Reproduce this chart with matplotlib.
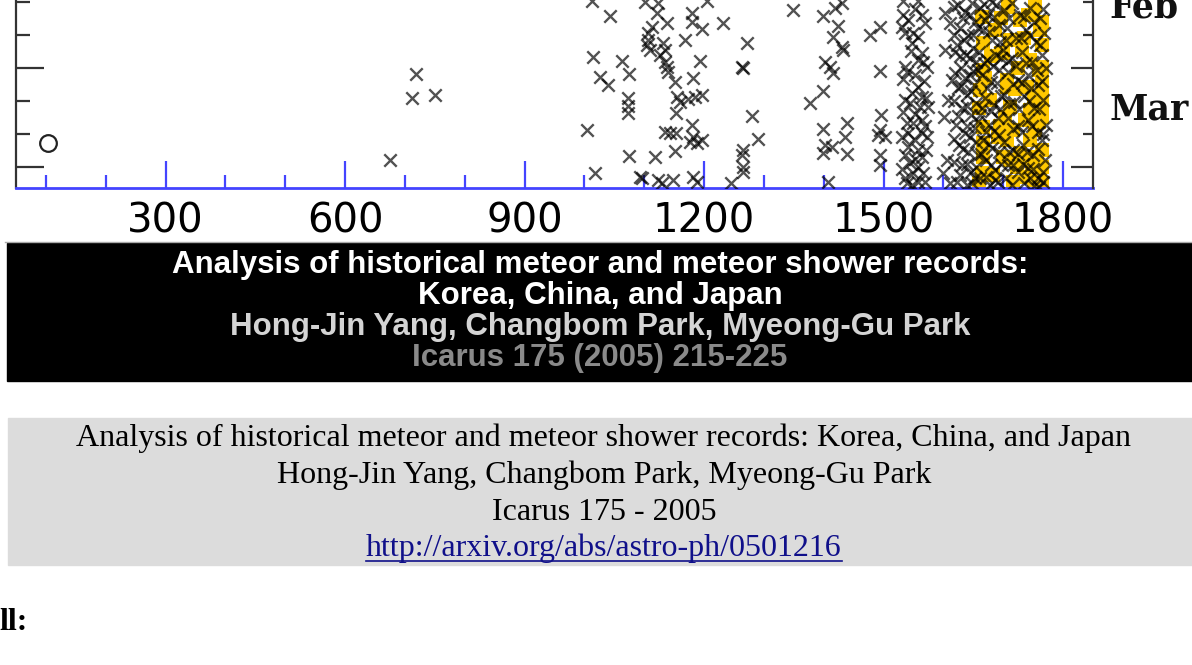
import matplotlib.pyplot as plt
from matplotlib.patches import Rectangle
from matplotlib.lines import Line2D
from matplotlib.ticker import FixedLocator, MultipleLocator

W, H = 1192, 665

# meteor records: (year, day of year)
sparse_records = [
    (718, 61.8), (712, 69.1), (750, 68.2), (675, 87.9),
    (1012, 39.6), (1043, 44.2), (1014, 56.7), (1026, 62.7), (1039, 65.2),
    (1063, 57.9), (1074, 61.8), (1073, 69.1), (1073, 71.5), (1073, 73.6),
    (1004, 78.8), (1074, 86.7), (1017, 91.8), (1093, 93.0), (1118, 87.0),
    (1101, 40.0), (1123, 40.3), (1121, 43.3), (1138, 46.4), (1113, 47.6),
    (1106, 49.4), (1106, 51.5), (1109, 54.5), (1104, 53.0), (1131, 52.4),
    (1134, 54.5), (1126, 56.1), (1134, 58.2), (1138, 59.7), (1139, 61.2),
    (1151, 64.2), (1180, 43.3), (1180, 46.1), (1196, 48.2), (1168, 51.5),
    (1193, 57.9), (1181, 63.0), (1155, 68.8), (1160, 70.3), (1173, 69.4),
    (1185, 68.8), (1196, 68.2), (1153, 73.6), (1180, 77.3), (1181, 80.9),
    (1176, 82.4), (1188, 82.7), (1196, 81.8), (1134, 79.4), (1143, 79.7),
    (1153, 79.7), (1151, 85.1), (1096, 93.3), (1123, 93.9), (1129, 94.8),
    (1148, 93.9), (1181, 93.0), (1188, 94.5), (1205, 39.6),
    (1231, 46.4), (1271, 52.4), (1265, 60.0), (1263, 59.7), (1348, 42.4),
    (1280, 74.5), (1290, 81.5), (1265, 84.8), (1263, 86.4), (1265, 90.0),
    (1265, 91.5), (1245, 94.8), (1398, 44.2), (1419, 41.8), (1430, 40.3),
    (1424, 47.3), (1415, 50.6), (1430, 53.6), (1432, 54.5), (1402, 58.2),
    (1410, 59.7), (1415, 61.5), (1398, 67.0), (1377, 70.6), (1398, 78.5),
    (1439, 76.7), (1435, 80.9), (1402, 83.3), (1414, 83.9), (1398, 85.8),
    (1439, 86.1), (1407, 94.5),
    (1494, 47.6), (1477, 50.0), (1494, 60.9), (1495, 74.2), (1494, 78.8),
    (1490, 80.3), (1502, 80.9), (1494, 86.4), (1494, 89.4),
]

records_1500s = [
    (1532, 43.9), (1541, 45.5), (1564, 43.9), (1536, 49.4), (1549, 49.4),
    (1557, 50.6), (1547, 52.4), (1564, 55.5), (1566, 58.2), (1536, 59.7),
    (1539, 61.2), (1572, 59.7), (1557, 65.8), (1564, 68.8), (1536, 69.7),
    (1544, 70.6), (1561, 71.8), (1574, 71.8), (1539, 76.7), (1549, 76.7),
    (1564, 75.8), (1541, 79.7), (1564, 79.7), (1572, 80.9), (1541, 83.9),
    (1557, 84.8), (1564, 87.0), (1544, 88.8), (1557, 90.0), (1549, 91.8),
    (1566, 91.8), (1536, 93.3), (1557, 94.5), (1539, 94.8), (1532, 39.6),
    (1557, 39.6),
    (1530, 47.5), (1553, 42.0), (1570, 46.5), (1545, 55.0), (1558, 57.5),
    (1533, 63.5), (1552, 62.0), (1568, 64.0), (1548, 67.5), (1571, 69.0),
    (1533, 73.5), (1553, 74.0), (1569, 77.5), (1531, 81.0), (1551, 81.5),
    (1535, 86.5), (1552, 87.5), (1571, 85.0), (1531, 90.5), (1570, 94.5),
    (1547, 95.5),
]

records_1600s = [
    (1602, 43.3), (1611, 46.4), (1602, 54.5), (1619, 55.2), (1601, 74.9),
    (1606, 87.9), (1599, 91.8), (1611, 94.9), (1607, 69.7), (1614, 63.6),
    (1624, 40.9), (1636, 43.0), (1648, 40.3), (1627, 47.9), (1641, 50.0),
    (1653, 46.1), (1622, 53.0), (1637, 56.1), (1649, 53.9), (1629, 60.0),
    (1644, 62.1), (1654, 58.2), (1624, 66.1), (1639, 68.2), (1651, 65.2),
    (1631, 72.1), (1646, 74.2), (1621, 77.3), (1636, 79.7), (1653, 78.2),
    (1626, 83.3), (1641, 85.5), (1654, 82.4), (1631, 89.4), (1646, 91.5),
    (1622, 94.5), (1639, 95.5), (1653, 93.3),
    (1661, 41.8), (1674, 43.9), (1688, 40.9), (1666, 48.5), (1681, 51.5),
    (1693, 47.0), (1659, 55.2), (1673, 57.6), (1688, 56.1), (1664, 62.1),
    (1679, 64.2), (1693, 60.6), (1669, 69.1), (1684, 71.2), (1661, 74.2),
    (1676, 77.3), (1691, 75.2), (1666, 81.8), (1681, 84.2), (1693, 80.3),
    (1671, 87.9), (1686, 90.9), (1661, 93.3), (1678, 95.5), (1691, 94.5),
    (1618, 41.5), (1632, 45.0), (1645, 44.0), (1658, 48.0), (1617, 50.0),
    (1634, 51.5), (1650, 50.0), (1628, 56.5), (1644, 57.0), (1658, 60.5),
    (1619, 61.5), (1636, 63.0), (1650, 61.0), (1630, 65.5), (1646, 67.0),
    (1618, 70.0), (1640, 71.5), (1655, 70.5), (1625, 74.5), (1658, 76.0),
    (1640, 77.5), (1617, 81.5), (1645, 81.0), (1632, 84.5), (1657, 86.5),
    (1618, 88.5), (1640, 89.0), (1655, 90.0), (1628, 92.5), (1648, 95.0),
    (1670, 45.5), (1685, 44.5), (1677, 49.0), (1695, 52.0), (1667, 58.5),
    (1683, 59.5), (1697, 57.0), (1673, 66.0), (1689, 64.5), (1697, 68.5),
    (1665, 72.0), (1679, 73.0), (1694, 72.5), (1671, 79.5), (1685, 79.0),
    (1676, 83.0), (1693, 85.5), (1663, 86.0), (1680, 89.5), (1696, 89.0),
    (1671, 93.0), (1686, 94.0), (1668, 40.5), (1682, 40.0),
]

records_1700s = [
    (1701, 42.4), (1714, 40.3), (1728, 43.9), (1744, 41.8), (1761, 44.9),
    (1706, 47.9), (1721, 50.9), (1738, 48.5), (1754, 52.1), (1768, 49.4),
    (1699, 54.5), (1714, 57.0), (1731, 55.2), (1748, 58.2), (1764, 56.1),
    (1708, 61.2), (1724, 63.6), (1741, 62.1), (1758, 65.2), (1771, 60.0),
    (1701, 68.2), (1718, 70.3), (1734, 68.5), (1751, 72.1), (1766, 69.7),
    (1708, 75.2), (1724, 77.6), (1741, 75.8), (1758, 79.4), (1771, 77.3),
    (1701, 82.4), (1716, 84.8), (1733, 83.3), (1749, 86.4), (1764, 81.8),
    (1708, 89.4), (1724, 91.5), (1741, 90.3), (1758, 93.3), (1769, 87.9),
    (1714, 95.5), (1734, 94.9), (1751, 95.8), (1766, 94.5),
    (1710, 45.0), (1735, 44.5), (1752, 46.0), (1767, 42.0), (1704, 51.5),
    (1729, 51.0), (1745, 50.0), (1762, 53.0), (1708, 58.0), (1722, 59.5),
    (1738, 58.5), (1756, 60.5), (1716, 65.0), (1732, 64.5), (1747, 66.0),
    (1765, 64.0), (1709, 71.0), (1726, 72.5), (1743, 70.0), (1760, 72.5),
    (1716, 78.5), (1732, 79.5), (1748, 77.5), (1766, 80.0), (1709, 85.5),
    (1724, 86.0), (1740, 85.5), (1758, 84.5), (1716, 89.5), (1733, 89.0),
    (1750, 90.5), (1766, 91.5), (1704, 93.5), (1745, 93.5), (1760, 96.0),
]

# highlighted (yellow) records
yellow_records = [
    (1664, 44.6), (1697, 44.9), (1666, 52.4), (1697, 55.5), (1666, 60.6),
    (1669, 63.0), (1661, 66.7), (1706, 65.8), (1703, 74.9), (1666, 77.9),
    (1666, 82.7), (1666, 87.0), (1664, 91.8), (1699, 87.0), (1691, 80.9),
    (1708, 41.5), (1728, 45.5), (1761, 48.5), (1699, 55.5), (1731, 54.5),
    (1764, 59.7), (1706, 63.6), (1739, 65.8), (1764, 66.7), (1711, 71.8),
    (1744, 72.7), (1764, 74.9), (1716, 78.8), (1753, 78.8), (1706, 81.8),
    (1728, 85.8), (1756, 87.0), (1764, 90.0), (1723, 90.0), (1739, 93.0),
    (1761, 93.9), (1716, 94.5), (1753, 40.9), (1764, 53.0), (1744, 81.8),
    (1764, 84.8), (1751, 95.5), (1736, 75.8), (1678, 69.7), (1686, 48.5),
    (1750, 44.0), (1764, 46.0), (1745, 57.5), (1764, 63.0), (1752, 69.0),
    (1764, 70.5), (1760, 76.5), (1748, 90.5), (1764, 95.0), (1725, 60.0),
    (1720, 66.5), (1735, 87.5), (1712, 88.0), (1683, 92.5), (1695, 77.5),
    (1660, 95.0), (1660, 72.0), (1680, 56.5), (1760, 60.5), (1742, 44.0),
    (1735, 51.0), (1712, 51.5),
]

circle_record = (103, 82.7)

year_ticks = [300, 600, 900, 1200, 1500, 1800]
month_labels = [("Feb", 44.6), ("Mar", 75.5)]

title_lines = [
    "Analysis of historical meteor and meteor shower records:",
    "Korea, China, and Japan",
    "Hong-Jin Yang, Changbom Park, Myeong-Gu Park",
    "Icarus 175 (2005) 215-225",
]
caption_lines = [
    "Analysis of historical meteor and meteor shower records: Korea, China, and Japan",
    "Hong-Jin Yang, Changbom Park, Myeong-Gu Park",
    "Icarus 175 - 2005",
]
link = "http://arxiv.org/abs/astro-ph/0501216"


def fpos(x, y):
    return x / W, 1 - y / H


fig = plt.figure(figsize=(W / 100, H / 100), dpi=100)
fig.patch.set_facecolor("white")

# chart (top is cropped off like in the page screenshot)
ax = fig.add_axes([16 / W, 1 - 188 / H, 1077 / W, 252 / H])
ax.set_xlim(50, 1850)
ax.set_ylim(96.4, 20)

yx, yd = zip(*yellow_records)
ax.scatter(yx, yd, marker="s", s=90, color="#ffc800", linewidths=0, zorder=2)
for grp in [sparse_records, records_1500s, records_1600s, records_1700s]:
    gx, gd = zip(*grp)
    ax.scatter(gx, gd, marker="x", s=80, color="black", alpha=0.68,
               linewidths=1.7, zorder=3)
ax.plot(*circle_record, marker="o", ms=12, mfc="none", mec="#222222", mew=1.6,
        clip_on=False, zorder=4)

ax.spines["top"].set_visible(False)
ax.spines["right"].set_visible(False)
ax.spines["left"].set_color("#333333")
ax.spines["left"].set_linewidth(1.6)
ax.spines["bottom"].set_color("#4444ff")
ax.spines["bottom"].set_linewidth(2)

ax.xaxis.set_major_locator(FixedLocator(year_ticks))
ax.xaxis.set_minor_locator(MultipleLocator(100))
ax.tick_params(axis="x", which="major", direction="in", length=19.5, width=1.6,
               color="#4444ff", labelsize=29, pad=10, labelcolor="black")
ax.tick_params(axis="x", which="minor", direction="in", length=9.5, width=1.6,
               color="#4444ff")
for t in ax.get_xticklabels():
    t.set_fontfamily("DejaVu Sans")

ax.yaxis.set_major_locator(MultipleLocator(30))
ax.yaxis.set_minor_locator(MultipleLocator(10))
ax.tick_params(axis="y", which="major", direction="in", length=20, width=1.6,
               color="#333333", labelleft=False)
ax.tick_params(axis="y", which="minor", direction="in", length=10, width=1.6,
               color="#333333")

ax2 = ax.twinx()
ax2.set_ylim(ax.get_ylim())
for s in ["top", "bottom", "left"]:
    ax2.spines[s].set_visible(False)
ax2.spines["right"].set_color("#333333")
ax2.spines["right"].set_linewidth(1.6)
ax2.yaxis.set_major_locator(MultipleLocator(30))
ax2.yaxis.set_minor_locator(MultipleLocator(10))
ax2.tick_params(axis="y", which="major", direction="in", length=16, width=1.6,
                color="#333333", labelright=False)
ax2.tick_params(axis="y", which="minor", direction="in", length=7.5, width=1.6,
                color="#333333")

for name, day in month_labels:
    ax.text(1878, day, name, ha="left", va="baseline", fontsize=25,
            family="DejaVu Serif", fontweight="bold", color="#111111",
            clip_on=False)

# black title banner
fig.add_artist(Line2D([5 / W, 1], [1 - 242 / H] * 2, color="#aaaaaa", lw=1))
fig.add_artist(Rectangle(fpos(7, 381), (W - 7) / W, 138 / H,
                         transform=fig.transFigure, color="black", zorder=0))
title_colors = ["white", "white", "#d4d4d4", "#8a8a8a"]
for line, yy, c in zip(title_lines, [265, 296, 327, 358], title_colors):
    fig.text(*fpos(600, yy), line, ha="center", va="center", color=c,
             fontsize=22.5, fontweight="bold", family="Liberation Sans")

# grey caption box
fig.add_artist(Rectangle(fpos(8, 565), (W - 8) / W, 147 / H,
                         transform=fig.transFigure, color="#dcdcdc", zorder=0))
for line, yy in zip(caption_lines, [438, 475, 512]):
    fig.text(*fpos(604, yy), line, ha="center", va="center", color="black",
             fontsize=23, family="Liberation Serif")
fig.text(*fpos(604, 548), link, ha="center", va="center", color="#10108a",
         fontsize=23, family="Liberation Serif")
fig.add_artist(Line2D([366 / W, 842 / W], [1 - 561 / H] * 2, color="#10108a",
                      lw=1.2))

fig.text(*fpos(-1, 622), "ll:", ha="left", va="center", color="black",
         fontsize=23, fontweight="bold", family="Liberation Serif")

fig.savefig("out.png", dpi=100)
